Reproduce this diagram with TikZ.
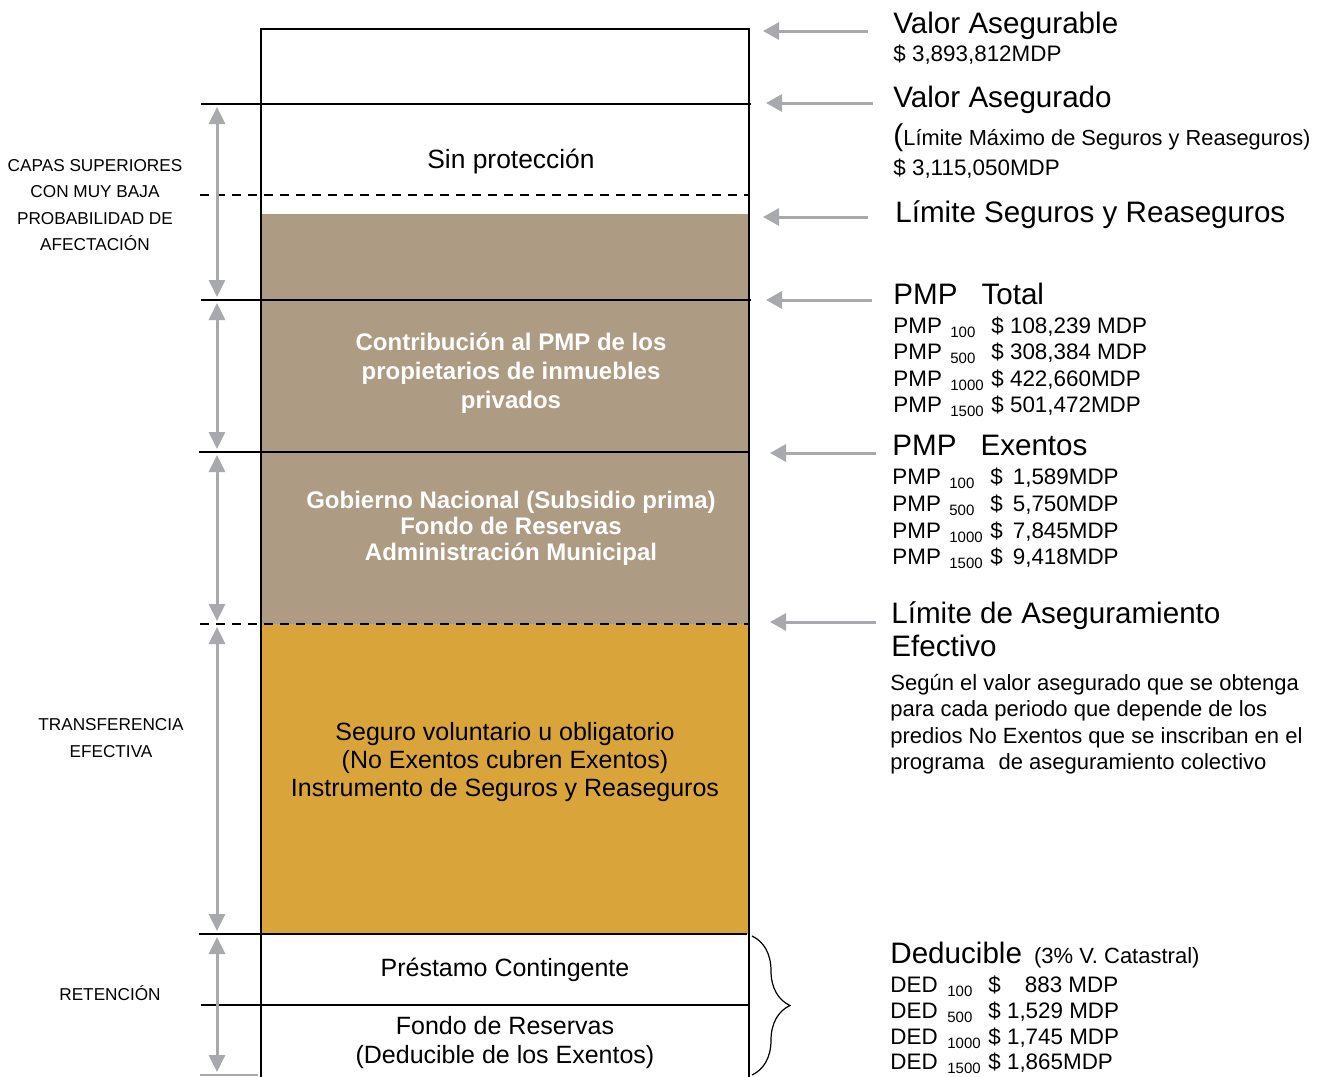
\documentclass[tikz,border=0pt]{standalone}
\usepackage{fontspec}
\setmainfont{Liberation Sans}
\usepackage{xcolor}
\definecolor{colorTan}{RGB}{173,156,131}
\definecolor{colorGold}{RGB}{217,165,58}
\definecolor{colorArrow}{RGB}{167,169,172}
\usetikzlibrary{arrows.meta, decorations.pathreplacing}
\tikzset{
  biglabel/.style={anchor=base west, inner sep=0pt, font=\fontsize{14.8}{16.5}\selectfont},
  smalllabel/.style={anchor=base west, inner sep=0pt, font=\fontsize{11.2}{13.25}\selectfont},
  blocklabel/.style={anchor=west, inner sep=0pt, align=left},
  layertext/.style={inner sep=0pt, align=center, font=\fontsize{12.5}{14}\selectfont},
  whitetext/.style={inner sep=0pt, align=center, text=white, font=\bfseries\fontsize{12}{14.5}\selectfont},
  sidetext/.style={inner sep=0pt, align=center, font=\fontsize{8.6}{13.25}\selectfont},
  levelline/.style={line width=1.25pt},
  dashline/.style={line width=1pt, dash pattern=on 4.5pt off 3.5pt},
  boxline/.style={line width=0.6pt},
  pointarrow/.style={draw=colorArrow, line width=1.5pt, -{Triangle[width=8.5pt,length=8pt]}},
  spanarrow/.style={draw=colorArrow, line width=1.5pt, {Triangle[width=8pt,length=8.5pt]}-{Triangle[width=8pt,length=8.5pt]}, shorten <=1.5pt, shorten >=1.5pt},
}
\newcommand{\valrow}[3]{\makebox[28.5pt][l]{#1}\makebox[20.5pt][l]{\raisebox{-2.2pt}{\fontsize{7.5}{8}\selectfont #2}}#3}

\begin{document}
\begin{tikzpicture}[x=0.5pt, y=-0.5pt]
\useasboundingbox (0,0) rectangle (1330,1077);
\fill[colorTan] (261,214) rectangle (749,624);
\fill[colorGold] (261,624) rectangle (749,934);
\draw[boxline] (261,1077) -- (261,29) -- (749,29) -- (749,1077);
\draw[levelline] (201,104) -- (751,104);
\draw[levelline] (201,300) -- (751,300);
\draw[levelline] (199,452) -- (749,452);
\draw[levelline] (199,934) -- (747,934);
\draw[levelline] (201,1005) -- (749,1005);
\draw[dashline] (200,195) -- (749,195);
\draw[dashline] (200,624) -- (749,624);
\draw[colorArrow, line width=0.8pt] (200,1075) -- (258,1075);

\node[layertext, font=\fontsize{13.2}{15}\selectfont] (sinprot) at (511,162) {Sin protección};
\node[whitetext] (contrib) at (511,373) {Contribución al PMP de los\\propietarios de inmuebles\\privados};
\node[whitetext, font=\bfseries\fontsize{12}{13}\selectfont] (gobierno) at (511,528) {Gobierno Nacional (Subsidio prima)\\Fondo de Reservas\\Administración Municipal};
\node[layertext] (seguro) at (505,762) {Seguro voluntario u obligatorio\\(No Exentos cubren Exentos)\\Instrumento de Seguros y Reaseguros};
\node[layertext] (prestamo) at (505,970) {Préstamo Contingente};
\node[layertext, font=\fontsize{12.5}{14.5}\selectfont] (fondo) at (505,1043) {Fondo de Reservas\\(Deducible de los Exentos)};

\node[sidetext] (capas) at (95,205) {CAPAS SUPERIORES\\CON MUY BAJA\\PROBABILIDAD DE\\AFECTACIÓN};
\node[sidetext] (transf) at (111,738) {TRANSFERENCIA\\EFECTIVA};
\node[sidetext] (retencion) at (110,993) {RETENCIÓN};

\coordinate (s1) at (217,104);
\coordinate (s2) at (217,300);
\coordinate (s3) at (217,452);
\coordinate (s4) at (217,624);
\coordinate (s5) at (217,934);
\coordinate (s6) at (217,1075);
\draw[spanarrow] (s1) -- (s2);
\draw[spanarrow] (s2) -- (s3);
\draw[spanarrow] (s3) -- (s4);
\draw[spanarrow] (s4) -- (s5);
\draw[spanarrow] (s5) -- (s6);

\node[biglabel] (asegurable) at (893,33) {Valor Asegurable};
\node[smalllabel] (asegurableval) at (893,61) {\$ 3,893,812MDP};
\node[biglabel] (asegurado) at (893,107) {Valor Asegurado};
\node[smalllabel, font=\fontsize{10.9}{13}\selectfont] (limmax) at (893,145) {{\fontsize{15}{15}\selectfont(}Límite Máximo de Seguros y Reaseguros)};
\node[smalllabel] (aseguradoval) at (893,175) {\$ 3,115,050MDP};
\node[biglabel] (limseg) at (895,222) {Límite Seguros y Reaseguros};
\node[biglabel] (pmptotal) at (893,304) {PMP\hspace{12pt}Total};
\node[smalllabel] (pt1) at (893,333) {\valrow{PMP}{100}{\$ 108,239 MDP}};
\node[smalllabel] (pt2) at (893,359) {\valrow{PMP}{500}{\$ 308,384 MDP}};
\node[smalllabel] (pt3) at (893,386) {\valrow{PMP}{1000}{\$ 422,660MDP}};
\node[smalllabel] (pt4) at (893,412) {\valrow{PMP}{1500}{\$ 501,472MDP}};
\node[biglabel] (pmpexentos) at (892,455) {PMP\hspace{12pt}Exentos};
\node[smalllabel] (pe1) at (892,484) {\valrow{PMP}{100}{\$\hspace{5pt}1,589MDP}};
\node[smalllabel] (pe2) at (892,511) {\valrow{PMP}{500}{\$\hspace{5pt}5,750MDP}};
\node[smalllabel] (pe3) at (892,538) {\valrow{PMP}{1000}{\$\hspace{5pt}7,845MDP}};
\node[smalllabel] (pe4) at (892,564) {\valrow{PMP}{1500}{\$\hspace{5pt}9,418MDP}};
\node[blocklabel, font=\fontsize{14.8}{16.5}\selectfont] (limefec) at (891,629) {Límite de Aseguramiento\\Efectivo};
\node[blocklabel, font=\fontsize{11}{13.25}\selectfont] (segun) at (890,724) {Según el valor asegurado que se obtenga\\para cada periodo que depende de los\\predios No Exentos que se inscriban en el\\programa\hspace{4pt} de aseguramiento colectivo};
\node[biglabel] (deducible) at (890,963) {Deducible\hspace{6pt}{\fontsize{11}{13}\selectfont(3\% V. Catastral)}};
\node[smalllabel] (d1) at (890,992) {\valrow{DED}{100}{\$\hspace{12pt}883 MDP}};
\node[smalllabel] (d2) at (890,1018) {\valrow{DED}{500}{\$ 1,529 MDP}};
\node[smalllabel] (d3) at (890,1044) {\valrow{DED}{1000}{\$ 1,745 MDP}};
\node[smalllabel] (d4) at (890,1069) {\valrow{DED}{1500}{\$ 1,865MDP}};

\coordinate (a1t) at (868,31);  \coordinate (a1h) at (763,31);
\coordinate (a2t) at (873,103); \coordinate (a2h) at (766,103);
\coordinate (a3t) at (868,217); \coordinate (a3h) at (763,217);
\coordinate (a4t) at (872,300); \coordinate (a4h) at (766,300);
\coordinate (a5t) at (876,453); \coordinate (a5h) at (770,453);
\coordinate (a6t) at (876,622); \coordinate (a6h) at (770,622);
\draw[pointarrow] (a1t) -- (a1h);
\draw[pointarrow] (a2t) -- (a2h);
\draw[pointarrow] (a3t) -- (a3h);
\draw[pointarrow] (a4t) -- (a4h);
\draw[pointarrow] (a5t) -- (a5h);
\draw[pointarrow] (a6t) -- (a6h);

\coordinate (bracetop) at (752,936);
\coordinate (bracebot) at (752,1075);
\draw[boxline, decorate, decoration={brace, amplitude=19pt}] (bracetop) -- (bracebot);
\end{tikzpicture}
\end{document}
